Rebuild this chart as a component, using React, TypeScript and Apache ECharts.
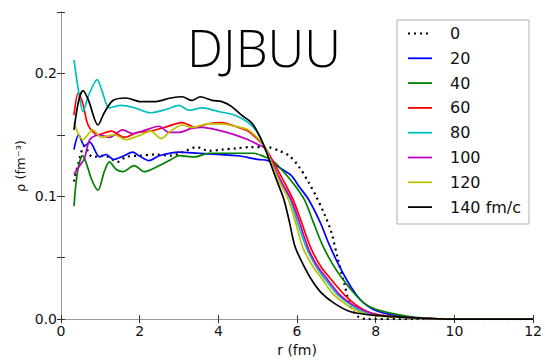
import React, { useEffect, useRef } from "react";
import * as echarts from "echarts";

const seriesNames = ["0", "20", "40", "60", "80", "100", "120", "140 fm/c"];
const seriesColors = ["#000000", "#0000ff", "#008000", "#ff0000", "#00bfbf", "#bf00bf", "#bfbf00", "#000000"];
const xTicks = [0, 2, 4, 6, 8, 10, 12];
const yLabelTicks = [0.0, 0.1, 0.2];

const rho0 = [[0.33,0.112],[0.45,0.128],[0.6,0.141],[0.8,0.132],[1.1,0.133],[1.44,0.128],[1.65,0.132],[2.0,0.133],[2.4,0.134],[2.8,0.133],[3.1,0.136],[3.45,0.140],[3.75,0.137],[4.1,0.138],[4.45,0.139],[4.8,0.140],[5.25,0.140],[5.55,0.137],[5.8,0.133],[6.05,0.124],[6.3,0.111],[6.5,0.099],[6.7,0.085],[6.86,0.072],[7.03,0.050],[7.2,0.029],[7.36,0.010],[7.55,0.002],[7.8,0.0],[9,0.0],[12,0.0]];
const rho20 = [[0.33,0.138],[0.45,0.150],[0.6,0.141],[0.73,0.144],[0.98,0.132],[1.15,0.134],[1.33,0.130],[1.6,0.133],[1.82,0.136],[1.98,0.133],[2.24,0.129],[2.5,0.133],[3.0,0.136],[3.5,0.135],[4.0,0.134],[4.5,0.133],[5.0,0.130],[5.26,0.129],[5.52,0.124],[5.85,0.117],[6.05,0.108],[6.3,0.097],[6.6,0.078],[6.8,0.062],[7.03,0.046],[7.28,0.031],[7.5,0.020],[7.7,0.013],[8.0,0.007],[8.5,0.003],[9.0,0.001],[10,0.0],[12,0.0]];
const rho40 = [[0.33,0.092],[0.42,0.120],[0.55,0.133],[0.63,0.128],[0.8,0.112],[0.94,0.105],[1.1,0.120],[1.23,0.128],[1.4,0.122],[1.57,0.120],[1.86,0.125],[2.12,0.120],[2.5,0.125],[2.8,0.130],[3.0,0.133],[3.4,0.132],[3.75,0.135],[4.4,0.135],[4.9,0.135],[5.18,0.132],[5.34,0.130],[5.6,0.122],[5.94,0.109],[6.19,0.097],[6.4,0.080],[6.65,0.060],[6.9,0.045],[7.15,0.033],[7.45,0.021],[7.7,0.013],[8.0,0.008],[8.5,0.004],[9.0,0.0015],[10,0.0],[12,0.0]];
const rho60 = [[0.33,0.166],[0.44,0.184],[0.56,0.175],[0.69,0.158],[0.94,0.150],[1.28,0.153],[1.61,0.148],[1.95,0.152],[2.28,0.153],[2.62,0.156],[3.08,0.160],[3.42,0.156],[3.75,0.159],[4.09,0.160],[4.42,0.157],[4.76,0.153],[5.01,0.146],[5.18,0.140],[5.4,0.128],[5.6,0.116],[5.89,0.098],[6.1,0.080],[6.35,0.058],[6.6,0.043],[6.9,0.031],[7.2,0.020],[7.48,0.012],[7.8,0.006],[8.2,0.003],[9,0.001],[10,0.0],[12,0.0]];
const rho80 = [[0.33,0.211],[0.45,0.185],[0.56,0.169],[0.7,0.182],[0.92,0.195],[1.05,0.185],[1.23,0.172],[1.53,0.174],[1.87,0.172],[2.28,0.168],[2.7,0.171],[3.0,0.174],[3.25,0.170],[3.58,0.172],[4.0,0.169],[4.42,0.166],[4.76,0.160],[4.97,0.153],[5.18,0.140],[5.4,0.125],[5.6,0.111],[5.82,0.098],[6.0,0.080],[6.24,0.058],[6.5,0.042],[6.75,0.031],[7.0,0.021],[7.3,0.013],[7.6,0.007],[8.0,0.003],[9,0.001],[10,0.0],[12,0.0]];
const rho100 = [[0.33,0.118],[0.5,0.126],[0.6,0.131],[0.73,0.146],[0.98,0.150],[1.23,0.148],[1.57,0.154],[1.82,0.151],[2.16,0.154],[2.49,0.157],[2.75,0.152],[3.0,0.152],[3.3,0.155],[3.58,0.156],[4.09,0.153],[4.42,0.150],[4.76,0.146],[5.01,0.142],[5.18,0.139],[5.4,0.125],[5.6,0.112],[5.84,0.098],[6.05,0.080],[6.28,0.058],[6.5,0.044],[6.78,0.032],[7.05,0.021],[7.35,0.013],[7.7,0.007],[8.1,0.003],[9,0.001],[10,0.0],[12,0.0]];
const rho120 = [[0.33,0.160],[0.56,0.146],[0.81,0.154],[1.02,0.148],[1.36,0.150],[1.65,0.146],[2.03,0.150],[2.28,0.153],[2.54,0.147],[2.79,0.153],[3.08,0.158],[3.33,0.156],[3.75,0.159],[4.09,0.159],[4.42,0.157],[4.76,0.154],[5.01,0.147],[5.18,0.140],[5.38,0.125],[5.55,0.112],[5.77,0.098],[5.95,0.080],[6.15,0.058],[6.4,0.043],[6.65,0.032],[6.9,0.021],[7.2,0.013],[7.5,0.007],[7.9,0.003],[9,0.001],[10,0.0],[12,0.0]];
const rho140 = [[0.33,0.154],[0.45,0.178],[0.56,0.186],[0.7,0.178],[0.94,0.158],[1.1,0.168],[1.32,0.178],[1.65,0.180],[2.03,0.177],[2.37,0.177],[2.79,0.180],[3.08,0.181],[3.33,0.178],[3.54,0.181],[3.84,0.178],[4.09,0.177],[4.34,0.173],[4.59,0.166],[4.84,0.160],[5.05,0.149],[5.22,0.136],[5.47,0.114],[5.66,0.098],[5.8,0.080],[5.94,0.060],[6.1,0.048],[6.35,0.033],[6.6,0.022],[6.94,0.013],[7.36,0.006],[8.0,0.003],[9,0.001],[10,0.0],[12,0.0]];

const seriesData = [rho0, rho20, rho40, rho60, rho80, rho100, rho120, rho140];

const FONT = "DejaVu Sans";

function buildLegend() {
  const boxX = 397, boxY = 20, boxW = 132, boxH = 204;
  const rowY0 = 33.5, rowStep = 24.8;
  const children: any[] = [
    {
      type: "rect",
      shape: { x: boxX, y: boxY, width: boxW, height: boxH },
      style: { fill: "#ffffff", stroke: "#b0b0b0", lineWidth: 1 },
    },
  ];
  seriesNames.forEach((name, i) => {
    const y = rowY0 + i * rowStep;
    children.push({
      type: "line",
      shape: { x1: 408, y1: y, x2: 432, y2: y },
      style: {
        stroke: seriesColors[i],
        lineWidth: i === 0 ? 2.2 : 1.8,
        lineDash: i === 0 ? [2, 4] : null,
      },
    });
    children.push({
      type: "text",
      x: 450,
      y,
      style: {
        text: name,
        fontFamily: FONT,
        fontSize: 16,
        fill: "#111",
        textAlign: "left",
        textVerticalAlign: "middle",
      },
    });
  });
  return { type: "group", z: 100, children };
}

export default function App() {
  const ref = useRef<HTMLDivElement>(null);
  useEffect(() => {
    document.body.style.margin = "0";
    const chart = echarts.init(ref.current!, null, { renderer: "svg" });
    const isLabel = (v: number) => yLabelTicks.some((t) => Math.abs(t - v) < 1e-6);
    chart.setOption({
      animation: false,
      backgroundColor: "#ffffff",
      grid: { left: 61, right: 8, top: 12, bottom: 38 },
      graphic: [
        {
          type: "text",
          x: 264,
          y: 47,
          z: 50,
          style: {
            text: "DJBUU",
            fontSize: 51,
            fontFamily: "Open Sans",
            fontWeight: 300,
            fill: "#000",
            textAlign: "center",
            textVerticalAlign: "middle",
          },
        },
        {
          type: "text",
          x: 20,
          y: 166,
          rotation: Math.PI / 2,
          style: {
            text: "ρ (fm⁻³)",
            fontFamily: FONT,
            fontSize: 13,
            fill: "#111",
            textAlign: "center",
            textVerticalAlign: "middle",
          },
        },
        buildLegend(),
      ],
      xAxis: [
        {
          type: "value",
          min: 0,
          max: 12,
          interval: 2,
          name: "r (fm)",
          nameLocation: "middle",
          nameGap: 21,
          nameTextStyle: { fontFamily: FONT, fontSize: 14, color: "#111" },
          axisLine: { show: true, onZero: false, lineStyle: { color: "#999", width: 1 } },
          axisTick: { show: true, inside: true, length: 4, lineStyle: { color: "#333" } },
          axisLabel: {
            fontFamily: FONT,
            fontSize: 14,
            color: "#111",
            margin: 5,
            formatter: (v: number) => (xTicks.includes(v) ? String(v) : ""),
          },
          splitLine: { show: false },
        },
        {
          type: "value",
          position: "top",
          min: 0,
          max: 12,
          interval: 2,
          axisLine: { show: true, lineStyle: { color: "#999", width: 1 } },
          axisTick: { show: true, inside: true, length: 4, lineStyle: { color: "#333" } },
          axisLabel: { show: false },
          splitLine: { show: false },
        },
      ],
      yAxis: [
        {
          type: "value",
          min: 0,
          max: 0.25,
          interval: 0.05,
          axisLine: { show: true, onZero: false, lineStyle: { color: "#999", width: 1 } },
          axisTick: { show: true, inside: true, length: 4, lineStyle: { color: "#333" } },
          axisLabel: {
            fontFamily: FONT,
            fontSize: 14,
            color: "#111",
            margin: 4,
            formatter: (v: number) => (isLabel(v) ? v.toFixed(1) : ""),
          },
          splitLine: { show: false },
        },
        {
          type: "value",
          position: "right",
          min: 0,
          max: 0.25,
          interval: 0.05,
          axisLine: { show: true, lineStyle: { color: "#999", width: 1 } },
          axisTick: { show: true, inside: true, length: 4, lineStyle: { color: "#333" } },
          axisLabel: { show: false },
          splitLine: { show: false },
        },
      ],
      series: seriesData.map((d, i) => ({
        name: seriesNames[i],
        type: "line",
        xAxisIndex: 0,
        yAxisIndex: 0,
        data: d,
        symbol: "none",
        smooth: 0.3,
        clip: true,
        z: i === 0 ? 9 : 10,
        lineStyle: {
          color: seriesColors[i],
          width: i === 0 ? 2.2 : 1.7,
          type: i === 0 ? [2, 4] : "solid",
        },
        itemStyle: { color: seriesColors[i] },
      })),
    });
    return () => chart.dispose();
  }, []);
  return <div ref={ref} style={{ width: 545, height: 362 }} />;
}
